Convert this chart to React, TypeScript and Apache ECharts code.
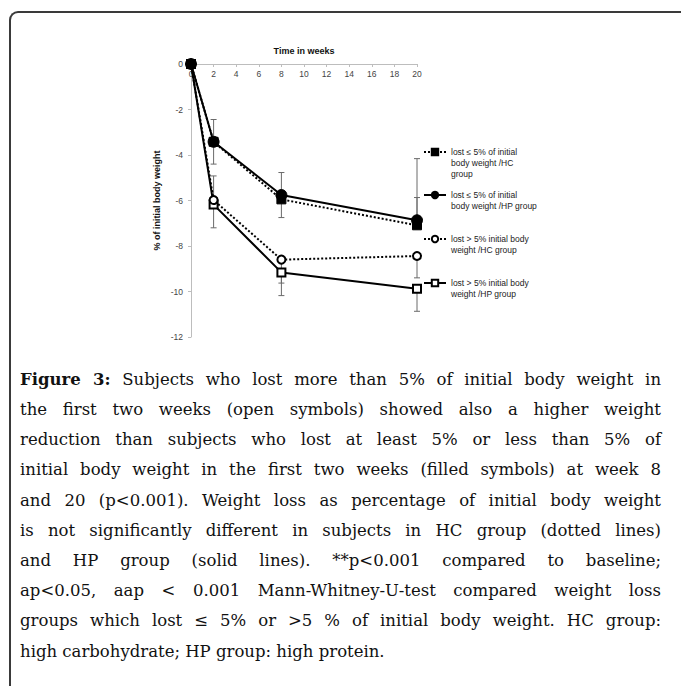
import React, { useEffect, useRef } from "react";
import * as echarts from "echarts";

// ---- data ----
const weeks = [0, 2, 8, 20];

const seriesNames = [
  "lost ≤ 5% of initial body weight /HC group",
  "lost ≤ 5% of initial body weight /HP group",
  "lost > 5% initial body weight /HC group",
  "lost > 5% initial body weight /HP group",
];
const legendLabels = [
  ["lost ≤ 5% of initial", "body weight /HC", "group"],
  ["lost ≤ 5% of initial", "body weight /HP group"],
  ["lost > 5% initial body", "weight /HC group"],
  ["lost > 5% initial body", "weight /HP group"],
];

// mean % of initial body weight
const hcLow = [0, -3.42, -5.95, -7.09];
const hpLow = [0, -3.42, -5.76, -6.87];
const hcHigh = [0, -5.98, -8.6, -8.44];
const hpHigh = [0, -6.18, -9.16, -9.88];

// error bar end points (one-sided)
const hcLowErr = [0, -4.4, -6.75, -4.16];
const hpLowErr = [0, -2.44, -4.77, -5.87];
const hcHighErr = [0, -4.92, -9.63, -9.4];
const hpHighErr = [0, -7.2, -10.18, -10.87];

const xAxisTitle = "Time in weeks";
const yAxisTitle = "% of initial body weight";

const captionLines = [
  "Subjects who lost more than 5% of initial body weight in",
  "the first two weeks (open symbols) showed also a higher weight",
  "reduction than subjects who lost at least 5% or less than 5% of",
  "initial body weight in the first two weeks (filled symbols) at week 8",
  "and 20 (p<0.001). Weight loss as percentage of initial body weight",
  "is not significantly different in subjects in HC group (dotted lines)",
  "and HP group (solid lines). **p<0.001 compared to baseline;",
  "ap<0.05, aap < 0.001 Mann-Whitney-U-test compared weight loss",
  "groups which lost ≤ 5% or >5 % of initial body weight. HC group:",
  "high carbohydrate; HP group: high protein.",
];

// ---- layout / style ----
const FONT = "'Liberation Sans', Arial, sans-serif";
const LEGEND_LH = 11;
const legendIconY = [152, 195, 239, 283];
const seriesStyles = [
  { symbol: "rect", size: 9, dash: "dotted", z: 5 },
  { symbol: "circle", size: 11, dash: "solid", z: 6 },
  { symbol: "emptyCircle", size: 8, dash: "dotted", z: 4 },
  { symbol: "emptyRect", size: 8, dash: "solid", z: 3 },
];

const means = [hcLow, hpLow, hcHigh, hpHigh];
const errs = [hcLowErr, hpLowErr, hcHighErr, hpHighErr];

function buildOption(): any {
  const lineSeries = seriesNames.map((name, i) => ({
    type: "line",
    name,
    data: weeks.map((w, j) => [w, means[i][j]]),
    symbol: seriesStyles[i].symbol,
    symbolSize: seriesStyles[i].size,
    showAllSymbol: true,
    lineStyle: { color: "#000", width: 2, type: seriesStyles[i].dash },
    itemStyle: { color: "#000", borderColor: "#000", borderWidth: 1 },
    z: seriesStyles[i].z,
  }));

  const errData: number[][] = [];
  weeks.forEach((w, j) => {
    if (w === 0) return;
    errs.forEach((e, i) => errData.push([w, means[i][j], e[j]]));
  });

  const errSeries = {
    type: "custom",
    name: "error",
    data: errData,
    encode: { x: 0, y: [1, 2] },
    z: 2,
    silent: true,
    renderItem: (_p: any, api: any) => {
      const x = api.value(0);
      const p1 = api.coord([x, api.value(1)]);
      const p2 = api.coord([x, api.value(2)]);
      const st = { stroke: "#6a6a6a", lineWidth: 1 };
      return {
        type: "group",
        children: [
          { type: "line", shape: { x1: p1[0], y1: p1[1], x2: p2[0], y2: p2[1] }, style: st },
          { type: "line", shape: { x1: p2[0] - 3, y1: p2[1], x2: p2[0] + 3, y2: p2[1] }, style: st },
        ],
      };
    },
  };

  // leading blank lines keep the legend icon level with the first text line
  const legends = seriesNames.map((name, i) => {
    const lines = legendLabels[i];
    const n = lines.length;
    const text = "\n".repeat(n - 1) + lines.join("\n");
    return {
      data: [name],
      left: 423,
      top: legendIconY[i] - ((2 * n - 1) * LEGEND_LH) / 2,
      padding: 0,
      orient: "vertical",
      itemWidth: 22,
      itemHeight: 8,
      selectedMode: false,
      formatter: () => text,
      textStyle: {
        fontFamily: FONT,
        fontSize: 8.5,
        color: "#222",
        lineHeight: LEGEND_LH,
      },
    };
  });

  return {
    animation: false,
    backgroundColor: "transparent",
    textStyle: { fontFamily: FONT },
    grid: { left: 191, top: 64, width: 226, height: 273, containLabel: false },
    legend: legends,
    xAxis: {
      type: "value",
      position: "top",
      min: 0,
      max: 20,
      interval: 2,
      name: xAxisTitle,
      nameLocation: "middle",
      nameGap: 9,
      nameTextStyle: { fontFamily: FONT, fontSize: 9, fontWeight: "bold", color: "#111" },
      axisLine: { show: true, onZero: false, lineStyle: { color: "#bdbdbd", width: 1 } },
      axisTick: { show: true, inside: true, length: 3, lineStyle: { color: "#bdbdbd" } },
      axisLabel: { inside: true, margin: 5, fontFamily: FONT, fontSize: 8.5, color: "#444" },
      splitLine: { show: false },
    },
    yAxis: {
      type: "value",
      min: -12,
      max: 0,
      interval: 2,
      name: yAxisTitle,
      nameLocation: "middle",
      nameGap: 30,
      nameTextStyle: { fontFamily: FONT, fontSize: 9, fontWeight: "bold", color: "#111" },
      axisLine: { show: true, onZero: false, lineStyle: { color: "#bdbdbd", width: 1 } },
      axisTick: { show: true, length: 3, lineStyle: { color: "#bdbdbd" } },
      axisLabel: { margin: 8, fontFamily: FONT, fontSize: 8.5, color: "#444" },
      splitLine: { show: false },
    },
    series: [errSeries, ...lineSeries],
  };
}

const CAPTION_LH = 30.2;

export default function App() {
  const ref = useRef<HTMLDivElement>(null);
  useEffect(() => {
    if (!ref.current) return;
    const chart = echarts.init(ref.current, null, { renderer: "svg" });
    chart.setOption(buildOption());
    return () => chart.dispose();
  }, []);

  const lineStyle = (last: boolean): React.CSSProperties => ({
    textAlign: last ? "left" : "justify",
    textAlignLast: last ? "left" : "justify",
    height: CAPTION_LH,
    lineHeight: CAPTION_LH + "px",
    whiteSpace: "nowrap",
  });

  return (
    <div
      style={{
        position: "fixed",
        left: 0,
        top: 0,
        width: 681,
        height: 686,
        overflow: "hidden",
        background: "#fff",
      }}
    >
      <div
        style={{
          position: "absolute",
          left: 9,
          top: 11,
          width: 1000,
          height: 1000,
          borderTop: "2px solid #3a3a3a",
          borderLeft: "2px solid #3a3a3a",
          borderTopLeftRadius: 9,
        }}
      />
      <div ref={ref} style={{ position: "absolute", left: 0, top: 0, width: 681, height: 360 }} />
      <div
        style={{
          position: "absolute",
          left: 20,
          top: 380 - CAPTION_LH / 2,
          width: 641,
          fontFamily: "'DejaVu Serif', 'Liberation Serif', serif",
          fontSize: 16.5,
          color: "#111",
        }}
      >
        {captionLines.map((t, i) => (
          <div key={i} style={lineStyle(i === captionLines.length - 1)}>
            {i === 0 ? <b>Figure 3:</b> : null}
            {i === 0 ? " " : null}
            {t}
          </div>
        ))}
      </div>
    </div>
  );
}
